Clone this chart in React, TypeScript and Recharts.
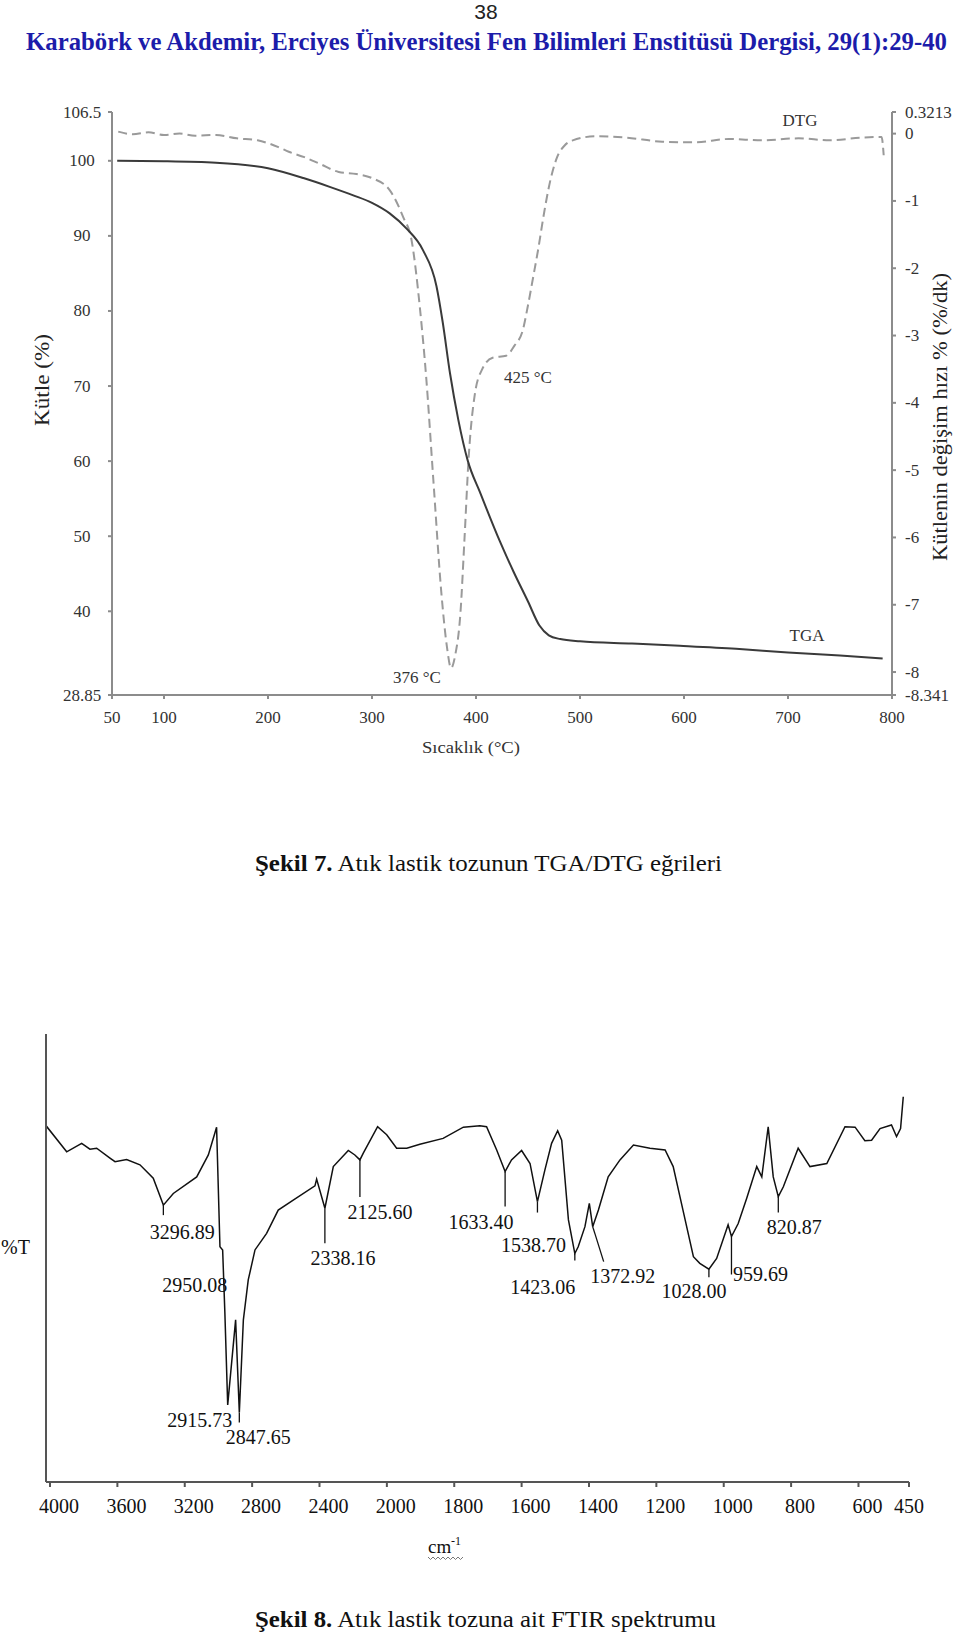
import React from 'react';
import { ComposedChart, Line, XAxis, YAxis, Scatter } from 'recharts';

// Şekil 7 – TGA (kütle %) and DTG (%/dk) against temperature (°C)
const tgaTemp = [55, 100, 150, 200, 234, 260, 282, 300, 317, 333, 349, 362, 368, 375, 383, 392, 404, 423, 436, 450, 461, 470, 481, 500, 550, 596, 650, 700, 750, 791];
const tgaMass = [100, 99.95, 99.75, 99.0, 97.7, 96.5, 95.4, 94.4, 93.0, 91.0, 88.1, 83.3, 78.5, 71.7, 65.5, 60.1, 55.8, 49.3, 45.3, 41.3, 38.1, 36.8, 36.3, 36.0, 35.7, 35.4, 35.0, 34.5, 34.1, 33.7];

const dtgTemp = [56, 70, 85, 100, 115, 130, 150, 170, 190, 210, 220, 235, 250, 268, 285, 300, 317, 330, 338, 346, 352, 359, 367, 372, 376, 380, 385, 389, 393, 399, 406, 416, 429, 437, 445, 450, 455, 460, 465, 470, 478, 485, 493, 515, 545, 579, 610, 643, 675, 710, 740, 770, 790, 792];
const dtgRate = [0.03, -0.01, 0.02, -0.02, 0.0, -0.03, -0.02, -0.07, -0.1, -0.2, -0.27, -0.35, -0.45, -0.57, -0.6, -0.66, -0.84, -1.24, -1.58, -2.58, -3.6, -5.15, -6.88, -7.62, -7.94, -7.75, -7.13, -6.0, -4.8, -3.86, -3.5, -3.33, -3.3, -3.15, -2.92, -2.55, -2.13, -1.7, -1.22, -0.8, -0.35, -0.18, -0.1, -0.04, -0.06, -0.12, -0.13, -0.08, -0.1, -0.07, -0.1, -0.06, -0.05, -0.32];

const tempTicks = [50, 100, 200, 300, 400, 500, 600, 700, 800];
const massTicks = [28.85, 40, 50, 60, 70, 80, 90, 100, 106.5];
const rateTicks = [-8.341, -8, -7, -6, -5, -4, -3, -2, -1, 0, 0.3213];

// Şekil 8 – FTIR spectrum (%T, no scale printed) against wavenumber (cm-1)
const ftirWave = [4023, 3901, 3812, 3763, 3723, 3644, 3614, 3545, 3466, 3387, 3327, 3268, 3129, 3060, 3011, 2991, 2975, 2962, 2945, 2898, 2876, 2852, 2823, 2783, 2714, 2645, 2556, 2427, 2417, 2368, 2318, 2229, 2190, 2160, 2140, 2055, 2001, 1971, 1941, 1902, 1833, 1773, 1724, 1704, 1674, 1649, 1630, 1600, 1575, 1553, 1531, 1511, 1493, 1481, 1461, 1442, 1432, 1412, 1399, 1389, 1372, 1343, 1308, 1268, 1219, 1174, 1150, 1130, 1090, 1071, 1044, 1021, 987, 977, 957, 932, 902, 887, 868, 853, 838, 823, 779, 744, 694, 640, 610, 581, 561, 536, 502, 487, 475, 467];
const ftirT = [79.5, 73.7, 75.6, 74.3, 74.5, 72.3, 71.5, 72.0, 70.8, 67.8, 61.8, 64.4, 68.1, 73.0, 79.2, 52.5, 51.8, 38.0, 17.2, 36.2, 15.5, 36.2, 45.1, 51.8, 55.5, 60.7, 62.9, 66.1, 67.6, 61.1, 70.4, 74.0, 73.0, 71.9, 73.4, 79.3, 77.5, 74.5, 74.5, 75.4, 76.7, 79.2, 79.5, 79.3, 74.1, 69.3, 71.9, 74.0, 71.1, 62.6, 69.6, 75.6, 78.4, 76.3, 58.5, 51.0, 52.5, 57.0, 62.2, 57.0, 60.7, 68.1, 71.9, 75.2, 74.5, 74.1, 70.4, 63.7, 50.3, 48.8, 47.5, 49.9, 57.4, 54.8, 57.7, 63.3, 70.4, 68.1, 79.3, 68.1, 63.7, 65.9, 74.5, 70.4, 71.1, 79.3, 79.2, 76.2, 76.3, 78.9, 79.7, 77.1, 78.9, 86.0];

const waveTicks = [4000, 3600, 3200, 2800, 2400, 2000, 1800, 1600, 1400, 1200, 1000, 800, 600, 450];

// where each printed peak label sits on the trace, and its text
const peakWave = [3327, 2975, 2945, 2876, 2368, 2160, 1649, 1553, 1442, 1389, 1044, 977, 838];
const peakLabels = ['3296.89', '2950.08', '2915.73', '2847.65', '2338.16', '2125.60', '1633.40', '1538.70', '1423.06', '1372.92', '1028.00', '959.69', '820.87'];

// label placement relative to the peak point (text centre, leader end)
const peakLayout: Record<string, { dx: number; dy: number; lead?: [number, number] }> = {
  '3296.89': { dx: 19, dy: 27, lead: [0, 10] },
  '2950.08': { dx: -28, dy: 35 },
  '2915.73': { dx: -28, dy: 15 },
  '2847.65': { dx: 19, dy: 24, lead: [0, 10] },
  '2338.16': { dx: 18, dy: 50, lead: [0, 35] },
  '2125.60': { dx: 20, dy: 52, lead: [0, 37] },
  '1633.40': { dx: -24, dy: 50, lead: [0, 35] },
  '1538.70': { dx: -4, dy: 43, lead: [0, 11] },
  '1423.06': { dx: -32, dy: 33, lead: [0, 7] },
  '1372.92': { dx: 30, dy: 49, lead: [11, 35] },
  '1028.00': { dx: -15, dy: 22, lead: [0, 8] },
  '959.69': { dx: 29, dy: 38, lead: [0, 38] },
  '820.87': { dx: 16, dy: 30, lead: [0, 16] },
};

// the printed wavenumber axis is split: 4000-2000 at half the scale of 2000-450
const toU = (w: number) => (w >= 2000 ? (4000 - w) / 2 : 1000 + (2000 - w));
const fromU = (u: number) => Math.round(u <= 1000 ? 4000 - 2 * u : 3000 - u);

const serif = '"Liberation Serif", "Times New Roman", serif';
const tgaAxis = '#8c8c8c';
const ftirAxis = '#555';

const leftTick = (p: any) => (
  <text x={p.x - 26} y={p.y} textAnchor="middle" dominantBaseline="central" fontSize={17} fill="#333" fontFamily={serif}>
    {p.payload.value}
  </text>
);
const rightTick = (p: any) => (
  <text x={p.x + 9} y={p.y} textAnchor="start" dominantBaseline="central" fontSize={17} fill="#333" fontFamily={serif}>
    {p.payload.value}
  </text>
);
const tempTick = (p: any) => (
  <text x={p.x} y={p.y + 18} textAnchor="middle" dominantBaseline="central" fontSize={17} fill="#333" fontFamily={serif}>
    {p.payload.value}
  </text>
);
const waveTick = (p: any) => {
  const w = fromU(p.payload.value);
  return (
    <text x={p.x + (w === 450 ? 0 : 9)} y={p.y + 19} textAnchor="middle" dominantBaseline="central" fontSize={20} fill="#111" fontFamily={serif}>
      {w}
    </text>
  );
};

const PeakMark = (p: any) => {
  const lay = peakLayout[p.payload.label];
  if (!lay) return <g />;
  return (
    <g>
      {lay.lead && (
        <line x1={p.cx} y1={p.cy} x2={p.cx + lay.lead[0]} y2={p.cy + lay.lead[1]} stroke="#111" strokeWidth={1.3} />
      )}
      <text x={p.cx + lay.dx} y={p.cy + lay.dy} textAnchor="middle" dominantBaseline="central" fontSize={20} fill="#111" fontFamily={serif}>
        {p.payload.label}
      </text>
    </g>
  );
};

export default function App() {
  const tgaRows = tgaTemp.map((t, i) => ({ t, m: tgaMass[i] }));
  const dtgRows = dtgTemp.map((t, i) => ({ t, r: dtgRate[i] }));
  const ftirRows = ftirWave.map((w, i) => ({ u: toU(w), v: ftirT[i] }));
  const peakRows = peakWave.map((w, i) => ({ u: toU(w), v: ftirT[ftirWave.indexOf(w)], label: peakLabels[i] }));

  return (
    <div style={{ position: 'absolute', left: 0, top: 0, width: 960, height: 1635, background: '#fff', overflow: 'hidden' }}>
      <div style={{ position: 'absolute', left: 0, top: 90 }}>
        <ComposedChart width={960} height={680} margin={{ top: 22, right: 0, bottom: 0, left: 0 }}>
          <XAxis
            type="number"
            dataKey="t"
            domain={[50, 800]}
            ticks={tempTicks}
            interval={0}
            height={75}
            stroke={tgaAxis}
            strokeWidth={2}
            tickSize={4}
            tickMargin={0}
            tick={tempTick}
            allowDataOverflow
          />
          <YAxis
            yAxisId="left"
            orientation="left"
            type="number"
            domain={[28.85, 106.5]}
            ticks={massTicks}
            interval={0}
            width={112}
            stroke={tgaAxis}
            strokeWidth={2}
            tickSize={4}
            tickMargin={0}
            tick={leftTick}
            allowDataOverflow
          />
          <YAxis
            yAxisId="right"
            orientation="right"
            type="number"
            domain={[-8.341, 0.3213]}
            ticks={rateTicks}
            interval={0}
            width={68}
            stroke={tgaAxis}
            strokeWidth={2}
            tickSize={4}
            tickMargin={0}
            tick={rightTick}
            allowDataOverflow
          />
          <Line yAxisId="right" data={dtgRows} dataKey="r" type="monotone" stroke="#9a9a9a" strokeWidth={2} strokeDasharray="9 5" dot={false} isAnimationActive={false} />
          <Line yAxisId="left" data={tgaRows} dataKey="m" type="monotone" stroke="#3a3a3a" strokeWidth={2} dot={false} isAnimationActive={false} />
        </ComposedChart>
      </div>

      <div style={{ position: 'absolute', left: 0, top: 1000 }}>
        <ComposedChart width={960} height={530} margin={{ top: 34, right: 51, bottom: 0, left: 0 }}>
          <XAxis
            type="number"
            dataKey="u"
            domain={[-11.9, 2550]}
            ticks={waveTicks.map(toU)}
            interval={0}
            height={48}
            stroke={ftirAxis}
            strokeWidth={2}
            tickSize={5}
            tickMargin={0}
            tick={waveTick}
            allowDataOverflow
          />
          <YAxis type="number" dataKey="v" domain={[0, 100]} width={46} tick={false} tickLine={false} stroke={ftirAxis} strokeWidth={2} allowDataOverflow />
          <Line data={ftirRows} dataKey="v" type="linear" stroke="#111" strokeWidth={1.5} dot={false} isAnimationActive={false} />
          <Scatter data={peakRows} dataKey="v" shape={PeakMark} isAnimationActive={false} />
        </ComposedChart>
      </div>

      <svg width={960} height={1635} style={{ position: 'absolute', left: 0, top: 0, pointerEvents: 'none' }} fontFamily={serif}>
        <text x={486} y={19} textAnchor="middle" fontSize={21} fill="#222" fontFamily='"Liberation Sans", Arial, sans-serif'>38</text>
        <text x={26} y={50} fontSize={25} fontWeight="bold" fill="#1c1caa" textLength={921} lengthAdjust="spacingAndGlyphs">
          Karabörk ve Akdemir, Erciyes Üniversitesi Fen Bilimleri Enstitüsü Dergisi, 29(1):29-40
        </text>

        <text transform="translate(49 380) rotate(-90)" textAnchor="middle" fontSize={21} fill="#222" textLength={92} lengthAdjust="spacingAndGlyphs">Kütle (%)</text>
        <text transform="translate(947 417) rotate(-90)" textAnchor="middle" fontSize={21} fill="#222" textLength={288} lengthAdjust="spacingAndGlyphs">Kütlenin değişim hızı % (%/dk)</text>
        <text x={471} y={753} textAnchor="middle" fontSize={17} fill="#333" textLength={98} lengthAdjust="spacingAndGlyphs">Sıcaklık (°C)</text>
        <text x={800} y={126} textAnchor="middle" fontSize={17} fill="#333">DTG</text>
        <text x={807} y={641} textAnchor="middle" fontSize={17} fill="#333">TGA</text>
        <text x={528} y={383} textAnchor="middle" fontSize={17} fill="#333">425 °C</text>
        <text x={417} y={683} textAnchor="middle" fontSize={17} fill="#333">376 °C</text>

        <text x={255} y={871} fontSize={23} fill="#111" textLength={467} lengthAdjust="spacingAndGlyphs">
          <tspan fontWeight="bold">Şekil 7.</tspan> Atık lastik tozunun TGA/DTG eğrileri
        </text>

        <text x={1} y={1254} fontSize={20} fill="#111">%T</text>
        <text x={428} y={1553} fontSize={19} fill="#111">cm</text>
        <text x={451} y={1545} fontSize={12} fill="#111">-1</text>
        <path d="M428 1557 l2.5 2.5 l2.5 -2.5 l2.5 2.5 l2.5 -2.5 l2.5 2.5 l2.5 -2.5 l2.5 2.5 l2.5 -2.5 l2.5 2.5 l2.5 -2.5 l2.5 2.5 l2.5 -2.5 l2.5 2.5 l2.5 -2.5" fill="none" stroke="#777" strokeWidth={1} />

        <text x={255} y={1627} fontSize={23} fill="#111" textLength={461} lengthAdjust="spacingAndGlyphs">
          <tspan fontWeight="bold">Şekil 8.</tspan> Atık lastik tozuna ait FTIR spektrumu
        </text>
      </svg>
    </div>
  );
}
